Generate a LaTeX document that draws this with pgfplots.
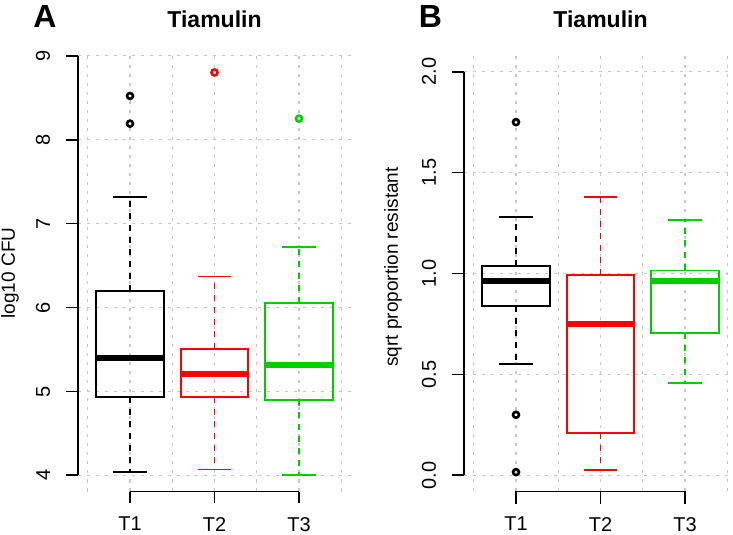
\documentclass[border=0pt]{standalone}
\usepackage{fontspec}
\setmainfont{Liberation Sans}
\usepackage{pgfplots}
\pgfplotsset{compat=1.18}
\usepgfplotslibrary{statistics}
\definecolor{rgreen}{RGB}{0,205,0}
\definecolor{rred}{RGB}{255,0,0}
\definecolor{rgrid}{RGB}{200,200,200}

\pgfplotsset{
  rpanel/.style={
    scale only axis, width=273.8pt, height=436pt,
    xmin=0.38, xmax=3.62,
    clip=false,
    axis x line*=bottom, axis y line*=left,
    axis line style={draw=none},
    xtick={1,2,3}, xticklabels={T1,T2,T3},
    minor xtick={0.5,1.5,2.5,3.5},
    xmajorgrids, xminorgrids, ymajorgrids,
    grid style={rgrid, line width=1.3pt, dash pattern=on 3.5pt off 5.5pt},
    minor grid style={rgrid, line width=1.3pt, dash pattern=on 3.5pt off 5.5pt},
    tick align=outside,
    major tick length=12pt, minor tick length=0pt,
    tick style={black, line width=1.8pt},
    minor tick style={draw=none},
    ticklabel style={font=\fontsize{20}{24}\selectfont},
    xticklabel style={inner sep=1pt, yshift=-12.5pt},
    yticklabel style={xshift=-12pt, rotate=90, anchor=south},
    /pgf/number format/assume math mode=true,
    boxplot/draw direction=y,
    boxplot/box extend=0.8,
    boxplot/whisker extend=0.4,
    boxplot/every box/.style={line width=1.8pt},
    boxplot/every whisker/.style={line width=1.8pt},
    boxplot/every median/.style={line width=6pt},
    boxplot/draw/lower whisker/.code={%
      \draw[/pgfplots/boxplot/every whisker/.try, dash pattern=on 6pt off 6pt]
        (boxplot cs:\pgfplotsboxplotvalue{lower quartile}) -- (boxplot cs:\pgfplotsboxplotvalue{lower whisker});
      \draw[/pgfplots/boxplot/every whisker/.try]
        (boxplot whisker cs:\pgfplotsboxplotvalue{lower whisker},0) -- (boxplot whisker cs:\pgfplotsboxplotvalue{lower whisker},1);
    },
    boxplot/draw/upper whisker/.code={%
      \draw[/pgfplots/boxplot/every whisker/.try, dash pattern=on 6pt off 6pt]
        (boxplot cs:\pgfplotsboxplotvalue{upper quartile}) -- (boxplot cs:\pgfplotsboxplotvalue{upper whisker});
      \draw[/pgfplots/boxplot/every whisker/.try]
        (boxplot whisker cs:\pgfplotsboxplotvalue{upper whisker},0) -- (boxplot whisker cs:\pgfplotsboxplotvalue{upper whisker},1);
    },
  },
  rbox/.style={mark=o, mark size=3pt, mark options={solid, line width=2.6pt}},
}

\begin{document}
\begin{tikzpicture}
\useasboundingbox (0pt,0pt) rectangle (733pt,535pt);

% ---------------- Panel A ----------------
\begin{axis}[rpanel, at={(77.6pt,43.5pt)}, anchor=south west,
  ymin=3.808, ymax=9.002, ytick={4,5,6,7,8,9}]
\addplot[black, rbox, boxplot prepared={draw position=1,
  lower whisker=4.04, lower quartile=4.93, median=5.40,
  upper quartile=6.20, upper whisker=7.32}]
  coordinates {(1,8.52) (1,8.19)};
\addplot[rred, rbox, boxplot prepared={draw position=2,
  lower whisker=4.07, lower quartile=4.93, median=5.21,
  upper quartile=5.51, upper whisker=6.37}]
  coordinates {(2,8.80)};
\addplot[rgreen, rbox, boxplot prepared={draw position=3,
  lower whisker=4.00, lower quartile=4.90, median=5.32,
  upper quartile=6.05, upper whisker=6.72}]
  coordinates {(3,8.25)};
\draw[black, line width=1.8pt] (axis cs:1,3.808) -- (axis cs:3,3.808);
\draw[black, line width=1.8pt] (axis cs:0.38,4) -- (axis cs:0.38,9);
\end{axis}

% ---------------- Panel B ----------------
\begin{axis}[rpanel, at={(463.6pt,43.5pt)}, anchor=south west,
  ymin=-0.08, ymax=2.08, ytick={0,0.5,1,1.5,2},
  yticklabels={0.0,0.5,1.0,1.5,2.0}]
\addplot[black, rbox, boxplot prepared={draw position=1,
  lower whisker=0.551, lower quartile=0.84, median=0.962,
  upper quartile=1.036, upper whisker=1.28}]
  coordinates {(1,1.75) (1,0.30) (1,0.016)};
\addplot[rred, rbox, boxplot prepared={draw position=2,
  lower whisker=0.028, lower quartile=0.211, median=0.751,
  upper quartile=0.994, upper whisker=1.378}]
  coordinates {};
\addplot[rgreen, rbox, boxplot prepared={draw position=3,
  lower whisker=0.457, lower quartile=0.706, median=0.962,
  upper quartile=1.015, upper whisker=1.267}]
  coordinates {};
\draw[black, line width=1.8pt] (axis cs:1,-0.08) -- (axis cs:3,-0.08);
\draw[black, line width=1.8pt] (axis cs:0.38,0) -- (axis cs:0.38,2);
\end{axis}

% ---------------- Titles and labels ----------------
\node[anchor=base, font=\fontsize{23}{27}\selectfont\bfseries] at (214.5pt,507pt) {Tiamulin};
\node[anchor=base, font=\fontsize{23}{27}\selectfont\bfseries] at (600.5pt,507pt) {Tiamulin};
\node[anchor=base, font=\fontsize{32}{38}\selectfont\bfseries] at (45pt,507pt) {A};
\node[anchor=base, font=\fontsize{32}{38}\selectfont\bfseries] at (430.5pt,507pt) {B};
\node[rotate=90, anchor=center, font=\fontsize{19}{23}\selectfont] at (10pt,262pt) {log10 CFU};
\node[rotate=90, anchor=center, font=\fontsize{19}{23}\selectfont] at (393pt,268pt) {sqrt proportion resistant};
\end{tikzpicture}
\end{document}
